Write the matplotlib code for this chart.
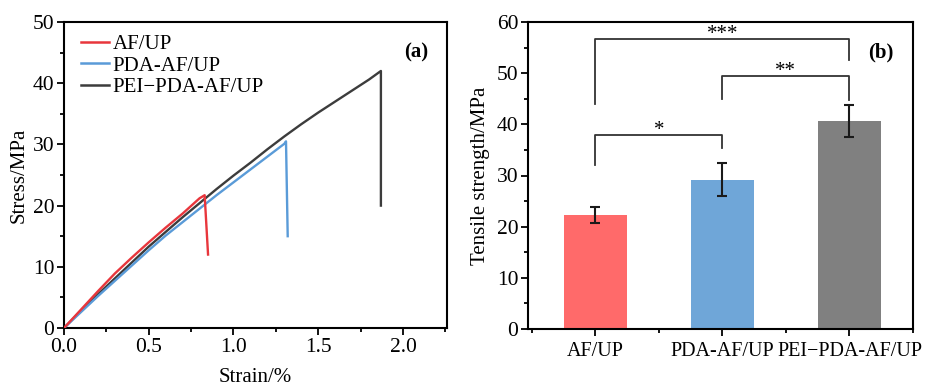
import matplotlib.pyplot as plt
import numpy as np
from matplotlib.ticker import MultipleLocator

plt.rcParams['font.family'] = ['Liberation Serif', 'DejaVu Serif']

# stress-strain curves
af_strain = [0, 0.1, 0.2, 0.3, 0.4, 0.5, 0.6, 0.7, 0.8, 0.83, 0.85]
af_stress = [0, 3.0, 6.0, 8.9, 11.5, 14.0, 16.4, 18.7, 21.2, 21.7, 12.0]

pda_strain = [0, 0.1, 0.2, 0.3, 0.4, 0.5, 0.6, 0.7, 0.8, 0.9, 1.0, 1.1, 1.2, 1.3, 1.31, 1.32]
pda_stress = [0, 2.6, 5.2, 7.7, 10.2, 12.7, 15.1, 17.3, 19.5, 21.7, 23.8, 25.9, 28.0, 30.1, 30.5, 15.0]

pei_strain = [0, 0.1, 0.2, 0.3, 0.4, 0.5, 0.6, 0.7, 0.8, 0.9, 1.0, 1.1, 1.2, 1.3,
              1.4, 1.5, 1.6, 1.7, 1.8, 1.87, 1.87]
pei_stress = [0, 2.8, 5.5, 8.1, 10.7, 13.3, 15.7, 18.1, 20.4, 22.7, 24.9, 27.0, 29.2, 31.3,
              33.3, 35.2, 37.0, 38.8, 40.6, 42.0, 20.0]

# tensile strength bars
samples = ["AF/UP", "PDA-AF/UP", "PEI\u2212PDA-AF/UP"]
strength = [22.3, 29.2, 40.7]
strength_err = [1.5, 3.3, 3.1]

line_colors = ["#E8363C", "#5A9BD8", "#3C3C3C"]
bar_colors = ["#FF6A6A", "#6FA6D8", "#808080"]

fig = plt.figure(figsize=(9.33, 3.87), dpi=100)
ax1 = fig.add_axes([64/933, 1 - 328/387, 383/933, 306/387])
ax2 = fig.add_axes([528/933, 1 - 329/387, 385/933, 307/387])

# (a)
ax1.plot(pei_strain, pei_stress, color=line_colors[2], lw=1.7, zorder=2)
ax1.plot(pda_strain, pda_stress, color=line_colors[1], lw=1.7, zorder=3)
ax1.plot(af_strain, af_stress, color=line_colors[0], lw=1.7, zorder=4)
h = [plt.Line2D([], [], color=c, lw=1.8) for c in line_colors]
ax1.legend(h, samples, loc="upper left", frameon=False, fontsize=15,
           handlelength=1.35, handletextpad=0.15, labelspacing=0.1,
           borderaxespad=0.2, bbox_to_anchor=(0.012, 1.0))
ax1.set_xlim(0, 2.26)
ax1.set_ylim(0, 50)
ax1.xaxis.set_major_locator(MultipleLocator(0.5))
ax1.xaxis.set_minor_locator(MultipleLocator(0.25))
ax1.yaxis.set_major_locator(MultipleLocator(10))
ax1.yaxis.set_minor_locator(MultipleLocator(5))
ax1.set_xlabel("Strain/%", fontsize=15, labelpad=8)
ax1.set_ylabel("Stress/MPa", fontsize=15, labelpad=3)
ax1.text(0.92, 0.9, "(a)", transform=ax1.transAxes, fontsize=15,
         fontweight="bold", ha="center", va="center")

# (b)
x = np.arange(len(samples))
ax2.bar(x, strength, width=0.5, color=bar_colors, zorder=2)
ax2.errorbar(x, strength, yerr=strength_err, fmt="none", ecolor="#1a1a1a",
             elinewidth=1.5, capsize=3.5, capthick=1.5, zorder=3)
ax2.set_xlim(-0.53, 2.5)
ax2.set_ylim(0, 60)
ax2.set_xticks(x)
ax2.set_xticklabels(samples)
ax2.xaxis.set_minor_locator(MultipleLocator(0.5))
ax2.yaxis.set_major_locator(MultipleLocator(10))
ax2.yaxis.set_minor_locator(MultipleLocator(5))
ax2.set_ylabel("Tensile strength/MPa", fontsize=15, labelpad=5)
ax2.text(0.917, 0.9, "(b)", transform=ax2.transAxes, fontsize=15,
         fontweight="bold", ha="center", va="center")

# significance brackets
brackets = [(0, 2, 44.0, 52.5, 56.6, "***"),
            (1, 2, 45.0, 44.7, 49.4, "**"),
            (0, 1, 32.0, 35.3, 37.9, "*")]
for x0, x1, y0, y1, top, lab in brackets:
    ax2.plot([x0, x0, x1, x1], [y0, top, top, y1], color="#333333", lw=1.3)
    ax2.text((x0 + x1) / 2, top + 0.1, lab, ha="center", va="baseline", fontsize=15)

for ax in (ax1, ax2):
    for s in ax.spines.values():
        s.set_linewidth(1.5)
    ax.tick_params(which="both", direction="out", top=False, right=False,
                   labelsize=15.5, width=1.3, pad=2)
    ax.tick_params(which="major", length=5)
    ax.tick_params(which="minor", length=3)
ax2.tick_params(axis="x", which="major", labelsize=14.5, pad=4)

fig.savefig("out.png", dpi=100)
